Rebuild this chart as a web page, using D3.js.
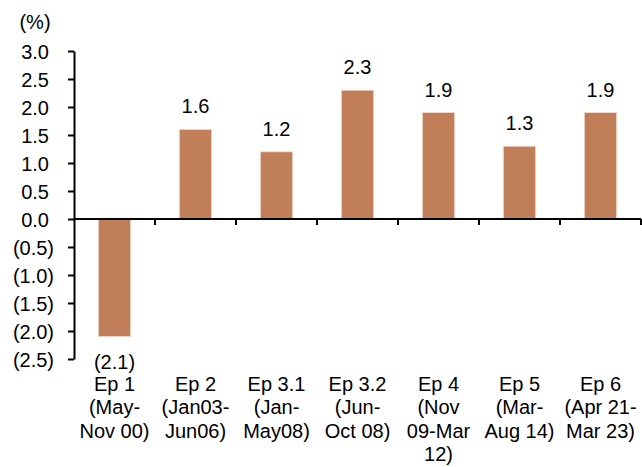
<!DOCTYPE html>
<html>
<head>
<meta charset="utf-8">
<script src="https://cdn.jsdelivr.net/npm/d3@7"></script>
<style>
  body { margin: 0; background: #fff; }
  svg { display: block; font-family: "Liberation Sans", Arial, sans-serif; }
</style>
</head>
<body>
<svg id="chart" width="642" height="467"></svg>
<script>
// episodes and their values (%)
const categories = [
  ["Ep 1", "(May-", "Nov 00)"],
  ["Ep 2", "(Jan03-", "Jun06)"],
  ["Ep 3.1", "(Jan-", "May08)"],
  ["Ep 3.2", "(Jun-", "Oct 08)"],
  ["Ep 4", "(Nov", "09-Mar", "12)"],
  ["Ep 5", "(Mar-", "Aug 14)"],
  ["Ep 6", "(Apr 21-", "Mar 23)"]
];
const values = [-2.1, 1.6, 1.2, 2.3, 1.9, 1.3, 1.9];
const yTicks = [3.0, 2.5, 2.0, 1.5, 1.0, 0.5, 0.0, -0.5, -1.0, -1.5, -2.0, -2.5];

const svg = d3.select("#chart"),
      plotLeft = 74, plotRight = 641,
      plotTop = 51, plotBottom = 359,
      fontSize = 20,
      barColor = "#c17f59";

// number format: negatives in brackets
const fmt = v => v < 0 ? "(" + d3.format(".1f")(-v) + ")" : d3.format(".1f")(v);

const x = d3.scaleBand()
  .domain(d3.range(categories.length))
  .range([plotLeft, plotRight])
  .paddingInner(0.6)
  .paddingOuter(0.3);

const xEdge = d3.scaleLinear()
  .domain([0, categories.length])
  .range([plotLeft, plotRight]);

const y = d3.scaleLinear()
  .domain([-2.5, 3.0])
  .range([plotBottom, plotTop]);

// bars
svg.append("g")
  .selectAll("rect")
  .data(values)
  .join("rect")
    .attr("x", (d, i) => x(i))
    .attr("width", x.bandwidth())
    .attr("y", d => y(Math.max(0, d)))
    .attr("height", d => Math.abs(y(d) - y(0)))
    .attr("fill", barColor)
    .attr("stroke", "#f2ddd0")
    .attr("stroke-width", 0.8);

// y axis
const yAxis = svg.append("g")
  .attr("transform", `translate(${plotLeft},0)`)
  .call(d3.axisLeft(y).tickValues(yTicks).tickSize(6).tickSizeOuter(0).tickFormat(fmt).tickPadding(0));
yAxis.select(".domain").attr("stroke", "#000").attr("stroke-width", 2);
yAxis.selectAll(".tick line").attr("stroke", "#000").attr("stroke-width", 2);
yAxis.selectAll(".tick text")
  .attr("font-size", fontSize)
  .attr("fill", "#000")
  .attr("x", d => d < 0 ? -20 : -25)
  .attr("dy", "0.36em");

// x axis at zero, ticks between the bands
const xAxis = svg.append("g")
  .attr("transform", `translate(0,${y(0)})`);
xAxis.append("line")
  .attr("x1", plotLeft).attr("x2", plotRight)
  .attr("stroke", "#000").attr("stroke-width", 2);
xAxis.selectAll(".tk")
  .data(d3.range(1, categories.length + 1))
  .join("line")
    .attr("class", "tk")
    .attr("x1", d => xEdge(d)).attr("x2", d => xEdge(d))
    .attr("y1", 0).attr("y2", 6)
    .attr("stroke", "#000").attr("stroke-width", 2);

// category labels below the plot
svg.append("g")
  .selectAll("text")
  .data(categories)
  .join("text")
    .attr("text-anchor", "middle")
    .attr("font-size", fontSize)
    .attr("fill", "#000")
    .attr("transform", (d, i) => `translate(${x(i) + x.bandwidth() / 2},391)`)
  .selectAll("tspan")
  .data(d => d)
  .join("tspan")
    .attr("x", 0)
    .attr("y", (d, i) => i * 23.4)
    .text(d => d);

// value labels
svg.append("g")
  .selectAll("text")
  .data(values)
  .join("text")
    .attr("text-anchor", "middle")
    .attr("font-size", fontSize)
    .attr("fill", "#000")
    .attr("x", (d, i) => x(i) + x.bandwidth() / 2)
    .attr("y", d => d < 0 ? y(d) + 32 : y(d) - 16)
    .text(fmt);

// unit
svg.append("text")
  .attr("x", 35).attr("y", 29)
  .attr("text-anchor", "middle")
  .attr("font-size", fontSize)
  .text("(%)");
</script>
</body>
</html>
